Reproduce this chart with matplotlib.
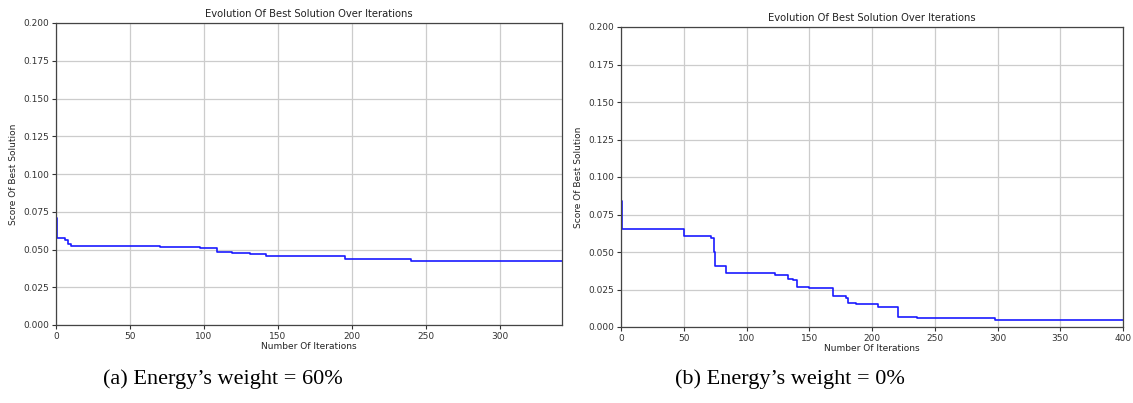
import matplotlib
matplotlib.use("Agg")
import matplotlib.pyplot as plt

# Best score found so far, stored as (iteration where it changes, new value)
iters_a = [0, 1, 6, 8, 10, 70, 97, 109, 119, 131, 142, 195, 240, 342]
score_a = [0.0707, 0.0577, 0.0563, 0.0535, 0.0523, 0.0515, 0.0511, 0.0482,
           0.0476, 0.0467, 0.0454, 0.0436, 0.0424, 0.0424]

iters_b = [0, 1, 50, 58, 72, 74, 75, 84, 123, 133, 137, 140, 150, 169, 179,
           181, 187, 205, 221, 236, 298, 400]
score_b = [0.0840, 0.0655, 0.0609, 0.0605, 0.0591, 0.0502, 0.0407, 0.0358,
           0.0349, 0.0322, 0.0311, 0.0269, 0.0260, 0.0204, 0.0196, 0.0160,
           0.0151, 0.0131, 0.0064, 0.0060, 0.0047, 0.0047]

xmax_a, xmax_b = 342, 400
yticks = [0.0, 0.025, 0.05, 0.075, 0.1, 0.125, 0.15, 0.175, 0.2]
captions = ["(a) Energy\u2019s weight = 60%", "(b) Energy\u2019s weight = 0%"]

W, H = 1133, 403
fig = plt.figure(figsize=(W / 100, H / 100), dpi=100)


def px_axes(x0, y0, x1, y1):
    # axes box given by pixel corners (top-left origin)
    return fig.add_axes([x0 / W, 1 - y1 / H, (x1 - x0) / W, (y1 - y0) / H])


def draw(ax, xs, ys, xmax):
    ax.step(xs, ys, where="post", color="#1a1aff", linewidth=1.2)
    ax.set_xlim(0, xmax)
    ax.set_ylim(0, 0.2)
    ax.set_yticks(yticks)
    ax.set_yticklabels([f"{t:.3f}" for t in yticks])
    ax.grid(True, color="#cccccc", linewidth=0.9)
    ax.set_axisbelow(True)
    ax.tick_params(labelsize=6.5, length=3, width=0.8, colors="#333333",
                   pad=2)
    for s in ax.spines.values():
        s.set_color("#444444")
        s.set_linewidth(0.9)
    ax.set_title("Evolution Of Best Solution Over Iterations", fontsize=7.2,
                 pad=4, color="#222222")
    ax.set_xlabel("Number Of Iterations", fontsize=6.5, labelpad=1,
                  color="#222222")
    ax.set_ylabel("Score Of Best Solution", fontsize=6.5, labelpad=4,
                  color="#222222")


ax1 = px_axes(56, 23, 562, 325)
draw(ax1, iters_a, score_a, xmax_a)

ax2 = px_axes(621, 27, 1123, 327)
draw(ax2, iters_b, score_b, xmax_b)

fig.text(223 / W, 1 - 379 / H, captions[0], fontsize=16,
         family="Liberation Serif", ha="center", va="center")
fig.text(790 / W, 1 - 379 / H, captions[1], fontsize=16,
         family="Liberation Serif", ha="center", va="center")

fig.savefig("out.png", dpi=100)
